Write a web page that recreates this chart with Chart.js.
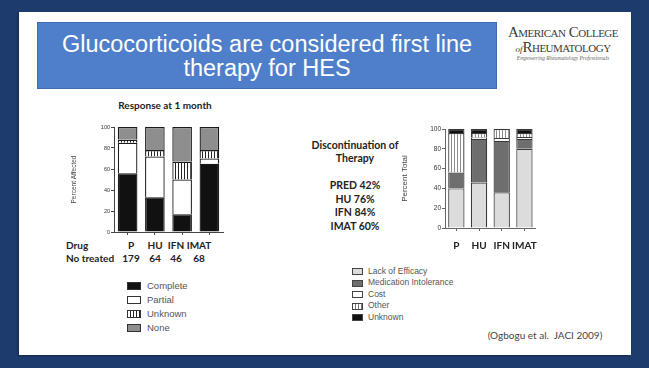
<!DOCTYPE html>
<html><head><meta charset="utf-8">
<script src="https://cdn.jsdelivr.net/npm/chart.js@4.4.1/dist/chart.umd.min.js"></script>
<style>
html,body{margin:0;padding:0;}
body{width:649px;height:368px;background:#1e3b6e;position:relative;overflow:hidden;font-family:"Liberation Sans",Arial,sans-serif;}
#slide{position:absolute;left:19px;top:12px;width:612px;height:343px;background:#fff;box-shadow:-1px 1px 2px rgba(0,0,0,0.35);}
#titlebox{position:absolute;left:37px;top:22px;width:460px;height:67px;background:#4f7fca;border:1px solid #3f6cb0;box-sizing:border-box;color:#fff;font-size:23.5px;line-height:24px;text-align:center;padding-top:9px;}
.abs{position:absolute;white-space:nowrap;}
.logo{position:absolute;left:500px;width:126px;text-align:center;font-family:"Liberation Serif","DejaVu Serif",serif;color:#3a3a3a;white-space:nowrap;}
.bold{font-family:Lato,"Open Sans",sans-serif;font-weight:bold;color:#222;}
.leg{font-size:9px;color:#555;font-family:"Liberation Sans",Arial,sans-serif;}
.sw{position:absolute;border:1px solid #333;box-sizing:border-box;}
canvas{position:absolute;}
</style></head>
<body>
<div id="slide"></div>
<div id="titlebox">Glucocorticoids are considered first line<br>therapy for HES</div>
<div class="logo" style="top:25px;font-size:15px;line-height:14px;font-variant:small-caps;letter-spacing:-0.5px">American College</div>
<div class="logo" style="top:40px;font-size:15px;line-height:14px;font-variant:small-caps;letter-spacing:-0.5px"><span style="font-size:9px;font-style:italic;font-variant:normal;letter-spacing:0">of</span>Rheumatology</div>
<div class="logo" style="top:55px;font-size:5.5px;line-height:7px;font-style:italic;color:#666">Empowering Rheumatology Professionals</div>
<div class="abs bold" style="left:100px;top:99px;width:130px;text-align:center;font-size:10px;">Response at 1 month</div>
<div class="abs bold" style="left:295px;top:139px;width:120px;text-align:center;font-size:10.5px;line-height:13px;">Discontinuation of<br>Therapy</div>
<div id="disc" class="abs bold" style="left:295px;top:179px;width:120px;text-align:center;font-size:10.5px;line-height:13.5px;"></div>
<div id="table"></div>
<div id="leg1"></div>
<div id="leg2"></div>
<div class="abs" style="left:470px;top:329px;width:150px;text-align:center;font-family:Lato,'Open Sans',sans-serif;font-size:10px;color:#444;">(Ogbogu et al.&nbsp; JACI 2009)</div>

<canvas id="c1" width="155" height="118" style="left:70px;top:120px;width:155px;height:118px"></canvas>
<canvas id="c2" width="146" height="136" style="left:400px;top:120px;width:146px;height:136px"></canvas>

<script>
// ---- Data ----
const drugs = ['P','HU','IFN','IMAT'];
const nTreated = [179, 64, 46, 68];
const responseLabels = ['Complete','Partial','Unknown','None'];
const complete = [56, 33, 17, 65];
const partial  = [29, 39, 33, 5];
const unknownResp = [3, 6, 17, 8];
const noneResp = [12, 22, 33, 22];

const discLabels = ['Lack of Efficacy','Medication Intolerance','Cost','Other','Unknown'];
const lackEfficacy = [40, 46, 36, 80];
const medIntolerance = [16, 44, 52, 10];
const cost = [0, 1.5, 3, 2];
const other = [40, 4.5, 9, 4];
const unknownDisc = [4, 4, 0, 4];

const discNames = ['PRED','HU','IFN','IMAT'];
const discPct = [42, 76, 84, 60];
const yTicks = [0,20,40,60,80,100];

// ---- Text blocks ----
document.getElementById('disc').innerHTML = discNames.map((n,i)=>n+' '+discPct[i]+'%').join('<br>');

const tX = [131, 155, 176, 199];
let th = '<div class="abs bold" style="left:66px;top:239px;font-size:10px;">Drug</div>'+
         '<div class="abs bold" style="left:66px;top:252px;font-size:10px;">No treated</div>';
drugs.forEach((d,i)=>{
  th += '<div class="abs bold" style="left:'+(tX[i]-20)+'px;top:239px;width:40px;text-align:center;font-size:10px;">'+d+'</div>';
  th += '<div class="abs bold" style="left:'+(tX[i]-20)+'px;top:252px;width:40px;text-align:center;font-size:10px;">'+nTreated[i]+'</div>';
});
document.getElementById('table').innerHTML = th;

const stripeCss = (c)=>'background:repeating-linear-gradient(90deg,#fff 0 2px,'+c+' 2px 3px);';
const fill1 = ['background:#111;','background:#fff;',stripeCss('#222'),'background:#8e8e8e;'];
let l1 = '';
responseLabels.forEach((t,i)=>{
  const y = 282 + i*14;
  l1 += '<div class="sw" style="left:127px;top:'+y+'px;width:14px;height:8px;'+fill1[i]+'"></div>';
  l1 += '<div class="abs leg" style="left:147px;top:'+(y-2)+'px;font-size:9.5px;">'+t+'</div>';
});
document.getElementById('leg1').innerHTML = l1;

const fill2 = ['background:#dcdcdc;','background:#6e6e6e;','background:#fff;',stripeCss('#777'),'background:#111;'];
let l2 = '';
discLabels.forEach((t,i)=>{
  const y = 268 + i*11.5;
  l2 += '<div class="sw" style="left:352px;top:'+y+'px;width:11px;height:7px;border-color:#444;'+fill2[i]+'"></div>';
  l2 += '<div class="abs leg" style="left:368px;top:'+(y-2.5)+'px;font-size:8.5px;">'+t+'</div>';
});
document.getElementById('leg2').innerHTML = l2;

// ---- Patterns ----
function stripes(lineColor, w){
  const c = document.createElement('canvas');
  c.width = w; c.height = 4;
  const x = c.getContext('2d');
  x.fillStyle = '#fff'; x.fillRect(0,0,w,4);
  x.fillStyle = lineColor; x.fillRect(0,0,1,4);
  return x.createPattern(c,'repeat');
}

function mkScales(cfg){
  return {
    x:{stacked:true, offset:true,
       grid:{display:true, drawOnChartArea:false, offset:false, tickLength:3, color:cfg.axis, tickColor:cfg.axis},
       border:{display:true,color:cfg.axis,width:1},
       ticks:cfg.xticks,
       afterFit:(s)=>{s.height=cfg.xh;}},
    y:{stacked:true, min:0, max:100,
       afterBuildTicks:(s)=>{s.ticks = yTicks.map(v=>({value:v}));},
       grid:{display:true, drawOnChartArea:false, tickLength:3, color:cfg.axis, tickColor:cfg.axis},
       border:{display:true,color:cfg.axis,width:1},
       ticks:{font:{size:cfg.yts, family:'Liberation Sans'}, color:'#333', padding:1},
       title:{display:true, text:cfg.ytitle, font:{size:cfg.ytt, family:'Liberation Sans'}, color:'#444', padding:{top:0,bottom:cfg.ytpad}},
       afterFit:(s)=>{s.width=cfg.yw;}}
  };
}

const common = {responsive:false, animation:false, events:[],
  plugins:{legend:{display:false}, tooltip:{enabled:false}}};

new Chart(document.getElementById('c1'), {
  type:'bar',
  data:{labels:drugs, datasets:[
    {label:responseLabels[0], data:complete, backgroundColor:'#111'},
    {label:responseLabels[1], data:partial, backgroundColor:'#fff'},
    {label:responseLabels[2], data:unknownResp, backgroundColor:stripes('#222',3)},
    {label:responseLabels[3], data:noneResp, backgroundColor:'#8e8e8e'}
  ].map(d=>Object.assign(d,{borderColor:'#1a1a1a', borderWidth:1.3, barPercentage:0.72, categoryPercentage:1}))},
  options:Object.assign({}, common, {
    layout:{padding:{top:7,right:2,left:0,bottom:0}},
    scales:mkScales({axis:'#444', xticks:{display:false}, xh:6, yts:5.5, ytitle:'Percent Affected', ytt:6.5, ytpad:8, yw:44})
  })
});

new Chart(document.getElementById('c2'), {
  type:'bar',
  data:{labels:drugs, datasets:[
    {label:discLabels[0], data:lackEfficacy, backgroundColor:'#dcdcdc'},
    {label:discLabels[1], data:medIntolerance, backgroundColor:'#6e6e6e'},
    {label:discLabels[2], data:cost, backgroundColor:'#fff'},
    {label:discLabels[3], data:other, backgroundColor:stripes('#8a8a8a',3)},
    {label:discLabels[4], data:unknownDisc, backgroundColor:'#111'}
  ].map(d=>Object.assign(d,{borderColor:'#3a3a3a', borderWidth:1.2, barPercentage:0.72, categoryPercentage:1}))},
  options:Object.assign({}, common, {
    layout:{padding:{top:9,right:2,left:0,bottom:0}},
    scales:mkScales({axis:'#666', xticks:{font:{size:10, weight:'bold', family:'Lato'}, color:'#222', padding:9, maxRotation:0, autoSkip:false}, xh:28, yts:6.5, ytitle:'Percent Total', ytt:8, ytpad:4, yw:45})
  })
});
</script>
</body></html>
